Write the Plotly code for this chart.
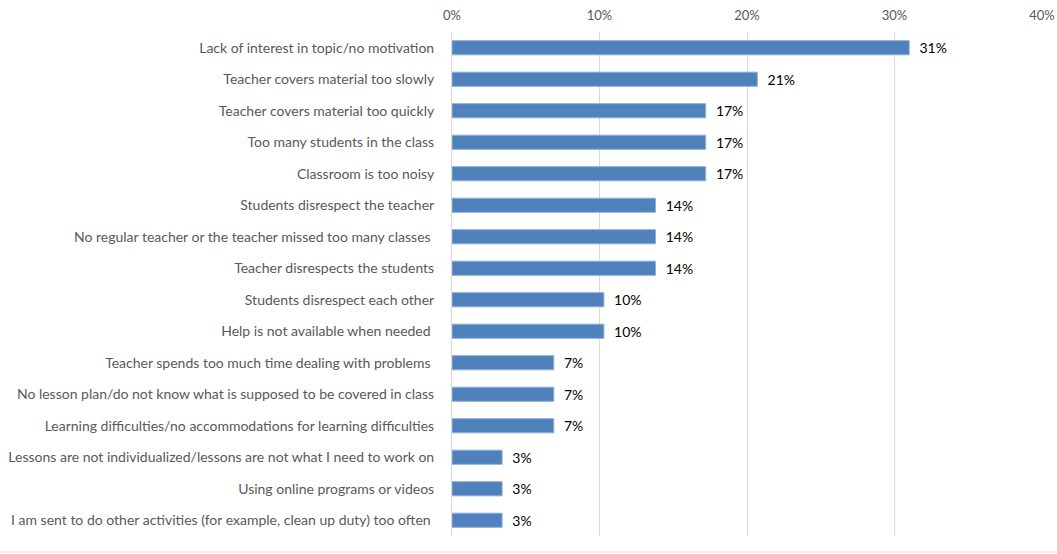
import plotly.graph_objects as go

categories = [
    "Lack of interest in topic/no motivation",
    "Teacher covers material too slowly",
    "Teacher covers material too quickly",
    "Too many students in the class",
    "Classroom is too noisy",
    "Students disrespect the teacher",
    "No regular teacher or the teacher missed too many classes ",
    "Teacher disrespects the students",
    "Students disrespect each other",
    "Help is not available when needed ",
    "Teacher spends too much time dealing with problems ",
    "No lesson plan/do not know what is supposed to be covered in class",
    "Learning difficulties/no accommodations for learning difficulties",
    "Lessons are not individualized/lessons are not what I need to work on",
    "Using online programs or videos",
    "I am sent to do other activities (for example, clean up duty) too often ",
]
values = [0.310, 0.207, 0.172, 0.172, 0.172, 0.138, 0.138, 0.138,
          0.103, 0.103, 0.069, 0.069, 0.069, 0.034, 0.034, 0.034]
x_ticks = [0, 0.1, 0.2, 0.3, 0.4]
x_tick_labels = ["0%", "10%", "20%", "30%", "40%"]

FONT = "Lato"

fig = go.Figure(go.Bar(
    x=values,
    y=categories,
    orientation="h",
    width=0.45,
    marker=dict(color="#4F81BD", line=dict(color="#8FB0DA", width=1)),
    text=[f"  {round(v*100):.0f}%" for v in values],
    textposition="outside",
    constraintext="none",
    textfont=dict(family=FONT, size=14, color="#000000"),
    cliponaxis=False,
    hoverinfo="skip",
))

fig.update_layout(
    width=1057, height=554,
    margin=dict(l=452, r=15, t=32, b=18, autoexpand=False),
    paper_bgcolor="white",
    plot_bgcolor="white",
    showlegend=False,
    uniformtext=dict(mode=False),
    font=dict(family=FONT, size=14, color="#595959"),
    xaxis=dict(
        side="top",
        range=[0, 0.4],
        tickvals=x_ticks,
        ticktext=x_tick_labels,
        showgrid=True,
        gridcolor="#D9D9D9",
        gridwidth=1,
        zeroline=False,
        showline=False,
        ticks="",
        automargin=False,
        tickfont=dict(family=FONT, size=13, color="#595959"),
        ticklabelstandoff=8,
    ),
    yaxis=dict(
        autorange="reversed",
        showgrid=False,
        zeroline=False,
        showline=True,
        linecolor="#D9D9D9",
        ticks="",
        automargin=False,
        tickfont=dict(family=FONT, size=14, color="#595959"),
        ticklabelstandoff=14,
    ),
    shapes=[dict(
        type="line", xref="paper", yref="paper",
        x0=-452/590, x1=1 + 15/590, y0=-16/504, y1=-16/504,
        line=dict(color="#E0E0E0", width=1),
    )],
)

fig.write_html(
    "out.html",
    config={"displayModeBar": False},
    post_script="document.body.style.margin='0';document.body.style.overflow='hidden';",
)
